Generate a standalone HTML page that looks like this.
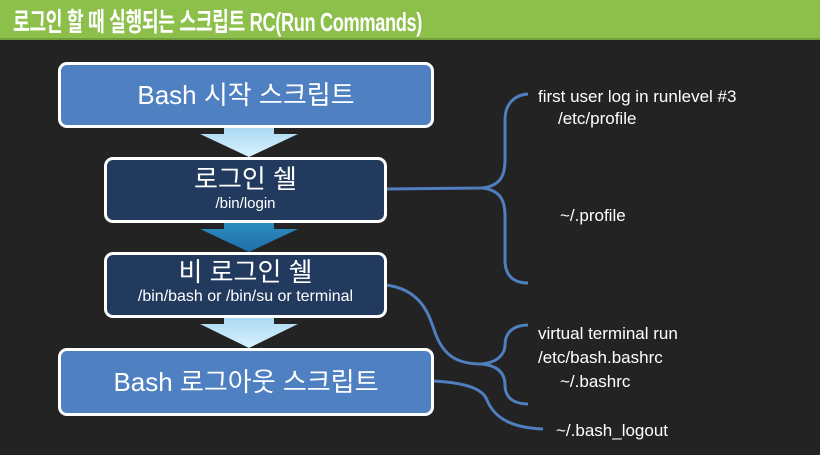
<!DOCTYPE html>
<html><head><meta charset="utf-8"><style>
body{margin:0;width:820px;height:455px;background:#232323;overflow:hidden;position:relative;font-family:"Liberation Sans","Noto Sans CJK KR",sans-serif}
.title{position:absolute;left:0;top:0;width:820px;height:38px;background:#8cc04b;border-bottom:2px solid #6f9e3a}
.title span{position:absolute;left:13px;top:2px;color:#fff;font-weight:bold;font-size:26px;letter-spacing:-0.5px;transform:scaleX(0.7);transform-origin:0 0;white-space:nowrap}
.box{position:absolute;box-sizing:border-box;border:3px solid #fff;border-radius:9px;color:#fff;text-align:center}
.lt{background:#4f81c2}
.dk{background:#213a5e}
.t{position:absolute;color:#fff;font-size:17px}
</style></head><body>
<div class="title"><span>로그인 할 때 실행되는 스크립트 RC(Run Commands)</span></div>
<svg width="820" height="455" style="position:absolute;left:0;top:0">
<defs>
<linearGradient id="ga" x1="0" y1="0" x2="0" y2="1"><stop offset="0" stop-color="#a9d8f2"/><stop offset="1" stop-color="#d9f2ff"/></linearGradient>
<linearGradient id="gb" x1="0" y1="0" x2="0" y2="1"><stop offset="0" stop-color="#2b8cc0"/><stop offset="1" stop-color="#1f6fa8"/></linearGradient>
</defs>
<polygon points="224,127 274,127 274,134 298,134 249,157 200,134 224,134" fill="url(#ga)"/>
<polygon points="224,222 274,222 274,229 298,229 249,252 200,229 224,229" fill="url(#gb)"/>
<polygon points="224,317 274,317 274,324 298,324 249,348 200,324 224,324" fill="url(#ga)"/>
<g fill="none" stroke="#4f7fbf" stroke-width="3">
<path d="M386,189 L482,188 C500,186 505,176 505,160 L505,120 C505,104 514,95 528,94"/>
<path d="M482,188 C500,190 505,200 505,216 L505,260 C505,276 514,283 528,283"/>
<path d="M386,285 C425,290 430,320 436,335 C445,358 460,364 482,364 C500,362 505,352 505,345 C505,332 514,325 528,325"/>
<path d="M482,364 C500,366 505,375 505,385 C505,398 514,404 528,404"/>
<path d="M433,381 C470,383 483,390 487,400 C495,420 515,428 543,429"/>
</g>
</svg>
<div class="box lt" style="left:58px;top:62px;width:376px;height:66px;font-size:26px;line-height:60px">Bash 시작 스크립트</div>
<div class="box dk" style="left:104px;top:157px;width:283px;height:66px"><div style="font-size:26px;margin-top:3px;line-height:32px">로그인 쉘</div><div style="font-size:15px">/bin/login</div></div>
<div class="box dk" style="left:104px;top:252px;width:283px;height:66px"><div style="font-size:26px;margin-top:1px;line-height:32px">비 로그인 쉘</div><div style="font-size:16px">/bin/bash or /bin/su or terminal</div></div>
<div class="box lt" style="left:58px;top:348px;width:376px;height:68px;font-size:26px;line-height:62px">Bash 로그아웃 스크립트</div>
<div class="t" style="left:538px;top:87px">first user log in runlevel #3</div>
<div class="t" style="left:558px;top:109px">/etc/profile</div>
<div class="t" style="left:560px;top:206px">~/.profile</div>
<div class="t" style="left:538px;top:324px">virtual terminal run</div>
<div class="t" style="left:538px;top:348px">/etc/bash.bashrc</div>
<div class="t" style="left:560px;top:372px">~/.bashrc</div>
<div class="t" style="left:556px;top:421px">~/.bash_logout</div>
</body></html>
